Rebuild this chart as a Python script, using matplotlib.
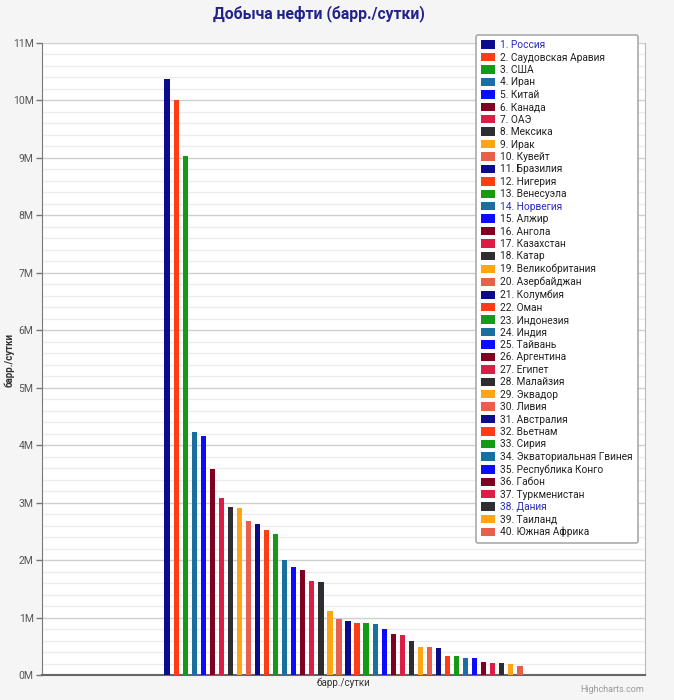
import matplotlib.pyplot as plt
import numpy as np
from matplotlib.ticker import FuncFormatter, MultipleLocator

plt.rcParams['font.family'] = ['Roboto', 'DejaVu Sans']

countries = ['Россия', 'Саудовская Аравия', 'США', 'Иран', 'Китай', 'Канада', 'ОАЭ',
             'Мексика', 'Ирак', 'Кувейт', 'Бразилия', 'Нигерия', 'Венесуэла', 'Норвегия',
             'Алжир', 'Ангола', 'Казахстан', 'Катар', 'Великобритания', 'Азербайджан',
             'Колумбия', 'Оман', 'Индонезия', 'Индия', 'Тайвань', 'Аргентина', 'Египет',
             'Малайзия', 'Эквадор', 'Ливия', 'Австралия', 'Вьетнам', 'Сирия',
             'Экваториальная Гвинея', 'Республика Конго', 'Габон', 'Туркменистан',
             'Дания', 'Таиланд', 'Южная Африка']

# добыча, барр./сутки
values = [10370000, 10010000, 9030000, 4230000, 4160000, 3590000, 3080000, 2920000,
          2900000, 2680000, 2630000, 2520000, 2450000, 2000000, 1880000, 1830000,
          1640000, 1610000, 1110000, 980000, 940000, 910000, 910000, 890000, 795000,
          720000, 700000, 590000, 490000, 490000, 470000, 330000, 330000, 290000,
          290000, 226000, 215000, 215000, 200000, 157000]

palette = ['#0b0b8c', '#ff3d14', '#149b14', '#1a6ea0', '#0b0bff',
           '#800022', '#dc1e46', '#2d2d32', '#ffa514', '#e8604c']

fig = plt.figure(figsize=(6.74, 7.0), dpi=100, facecolor='#f5f5f5')
ax = fig.add_axes([42 / 674, 25 / 700, 603 / 674, 632 / 700])
ax.set_facecolor('white')

n = len(values)
slot = 0.6 / n  # ширина места под один столбец внутри категории
for i, (name, v) in enumerate(zip(countries, values)):
    x = (i - (n - 1) / 2) * slot
    ax.bar(x, v, width=slot * 0.58, color=palette[i % 10], label=f'{i + 1}. {name}', zorder=3)

ax.set_xlim(-0.5, 0.5)
ax.set_ylim(0, 11000000)
ax.yaxis.set_major_locator(MultipleLocator(1000000))
ax.yaxis.set_minor_locator(MultipleLocator(200000))
ax.yaxis.set_major_formatter(FuncFormatter(lambda v, p: f'{int(round(v / 1e6))}M'))
ax.grid(axis='y', which='major', color='#cfcfcf', linewidth=1.0, zorder=0)
ax.grid(axis='y', which='minor', color='#ececec', linewidth=1.0, zorder=0)
ax.set_xticks([])
ax.tick_params(axis='y', which='major', length=4, width=1, color='#777777',
               labelsize=7.5, labelcolor='#555555', pad=2)
ax.tick_params(axis='y', which='minor', length=0)

ax.spines['top'].set_visible(False)
ax.spines['left'].set_color('#777777')
ax.spines['right'].set_color('#bbbbbb')
ax.spines['bottom'].set_color('#666666')
ax.spines['bottom'].set_linewidth(1.5)

ax.set_xlabel('барр./сутки', fontsize=7, color='#333333', labelpad=2)
# подпись оси y ставим вручную, чтобы не обрезалась у края
fig.text(9 / 674, 1 - 360 / 700, 'барр./сутки', rotation=90, ha='center', va='center',
         fontsize=7, fontweight='bold', color='#333333')

fig.text(319 / 674, 1 - 14 / 700, 'Добыча нефти (барр./сутки)', ha='center', va='center',
         fontsize=11.3, fontweight='bold', color='#22228c')
fig.text(612 / 674, 1 - 690 / 700, 'Highcharts.com', ha='center', va='center',
         fontsize=6.5, color='#999999')

leg = ax.legend(loc='upper left', bbox_to_anchor=(476 / 674, 1 - 35 / 700),
                bbox_transform=fig.transFigure, fontsize=7.3, frameon=True,
                fancybox=True, framealpha=1, edgecolor='#aaaaaa',
                handlelength=1.4, handleheight=0.9, handletextpad=0.5,
                labelspacing=0.24, borderpad=0.5, borderaxespad=0)
leg.get_frame().set_linewidth(1.2)
for k, t in enumerate(leg.get_texts()):
    t.set_color('#2b2bc0' if k in (0, 13, 37) else '#222222')

plt.savefig('out.png', dpi=100, facecolor=fig.get_facecolor())
